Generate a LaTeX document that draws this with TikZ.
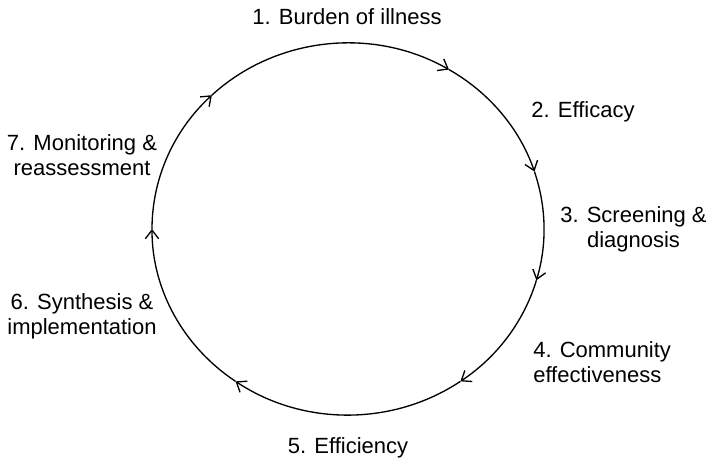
\documentclass[tikz,border=0pt]{standalone}
\usepackage{fontspec}
\setmainfont{Liberation Sans}
\usetikzlibrary{arrows.meta}

\begin{document}
\begin{tikzpicture}[x=0.75pt, y=0.75pt,
  stage/.style={font=\fontsize{16.5}{18.75}\selectfont, inner sep=0pt, align=center},
  cyc/.style={-{Straight Barb[length=6.5pt, width=10pt]}, line width=1pt},
  cycle arc/.style={x radius=147pt, y radius=139.5pt},
]
\useasboundingbox (-348,-231) rectangle (358,229);

% === Points on the cycle (arrow tips) ===
\coordinate (c1) at (59:147pt and 139.5pt);
\coordinate (c2) at (18:147pt and 139.5pt);
\coordinate (c3) at (-16:147pt and 139.5pt);
\coordinate (c4) at (-55:147pt and 139.5pt);
\coordinate (c5) at (-125:147pt and 139.5pt);
\coordinate (c6) at (180:147pt and 139.5pt);
\coordinate (c7) at (134:147pt and 139.5pt);

% === Cycle, clockwise ===
\draw[cyc] (c7) arc[cycle arc, start angle=134, end angle=59];
\draw[cyc] (c1) arc[cycle arc, start angle=59, end angle=18];
\draw[cyc] (c2) arc[cycle arc, start angle=18, end angle=-16];
\draw[cyc] (c3) arc[cycle arc, start angle=-16, end angle=-55];
\draw[cyc] (c4) arc[cycle arc, start angle=-55, end angle=-125];
\draw[cyc] (c5) arc[cycle arc, start angle=-125, end angle=-180];
\draw[cyc] (c6) arc[cycle arc, start angle=180, end angle=134];

% === Stages ===
\node[stage] (burden) at (-1, 212) {1. Burden of illness};
\node[stage] (efficacy) at (235, 117) {2. Efficacy};
\node[stage] (screen) at (285.5, -0.5) {3. Screening \&\\diagnosis};
\node[stage, anchor=west, align=left] (commun) at (185, -133.5) {4. Community\\effectiveness};
\node[stage] (effic) at (0, -219) {5. Efficiency};
\node[stage] (synth) at (-266, -87.5) {6. Synthesis \&\\implementation};
\node[stage] (monit) at (-266, 73.5) {7. Monitoring \&\\reassessment};
\end{tikzpicture}
\end{document}
